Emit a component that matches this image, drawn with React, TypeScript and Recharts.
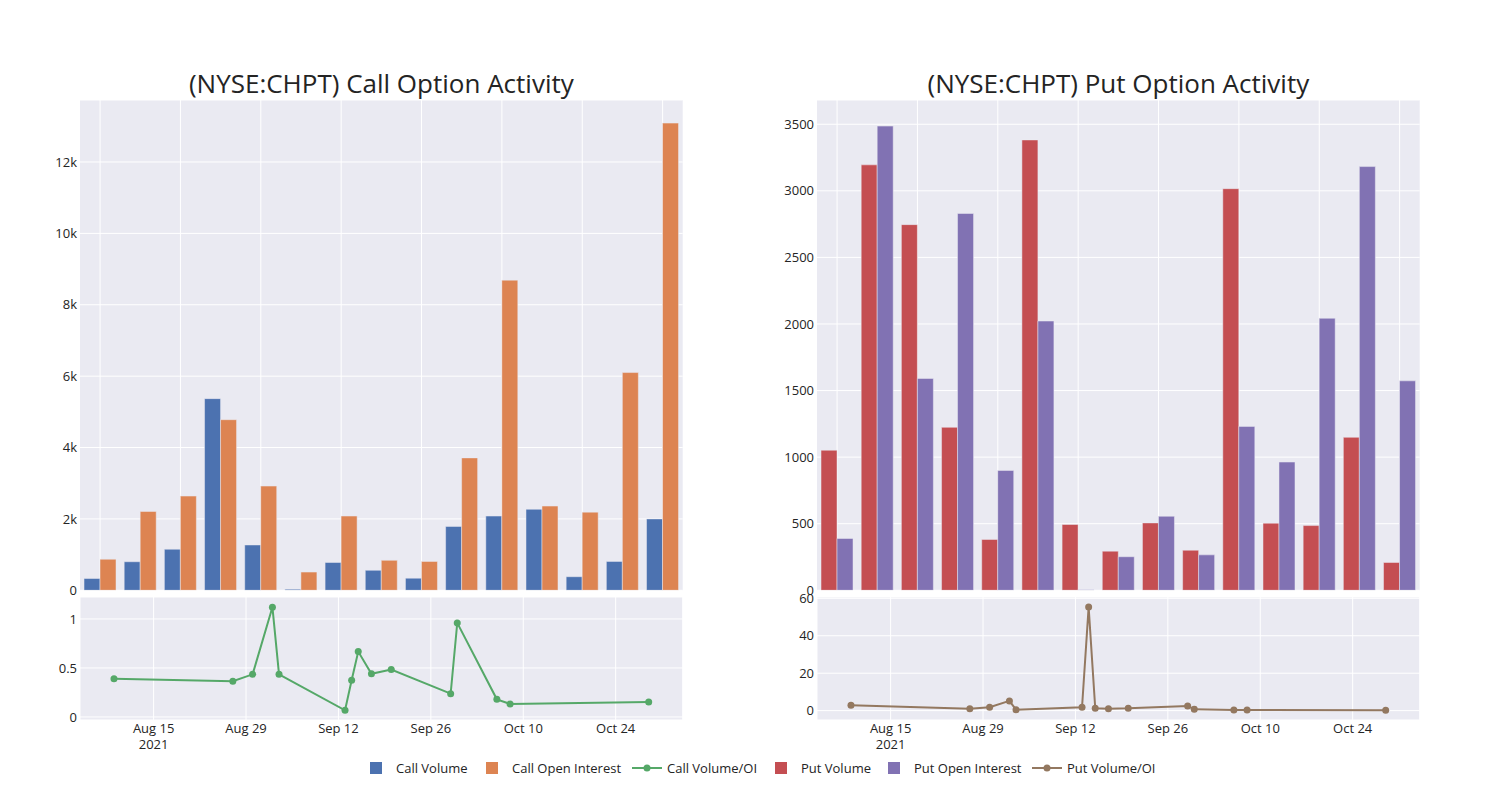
import React from "react";
import { BarChart, Bar, LineChart, Line, XAxis, YAxis, CartesianGrid } from "recharts";

// trade dates shared by all four panels
const dates = [
  "2021-08-09", "2021-08-27", "2021-08-30", "2021-09-02", "2021-09-03",
  "2021-09-13", "2021-09-14", "2021-09-15", "2021-09-17", "2021-09-20",
  "2021-09-29", "2021-09-30", "2021-10-06", "2021-10-08", "2021-10-29",
];

const callVolume = [330, 800, 1150, 5370, 1270, 30, 780, 560, 340, 1790, 2080, 2270, 380, 810, 2000];
const callOpenInterest = [870, 2210, 2640, 4780, 2920, 510, 2080, 840, 810, 3710, 8690, 2360, 2190, 6100, 13090];
const callRatio = [0.39, 0.364, 0.435, 1.12, 0.435, 0.068, 0.374, 0.667, 0.44, 0.483, 0.238, 0.96, 0.18, 0.133, 0.153];

const putVolume = [1052, 3195, 2746, 1224, 382, 3382, 494, 294, 506, 301, 3016, 504, 486, 1149, 209];
const putOpenInterest = [389, 3486, 1591, 2830, 900, 2022, 5, 252, 556, 266, 1231, 963, 2043, 3182, 1573];
const putRatio = [2.85, 1.07, 1.78, 5.2, 0.53, 1.78, 55.3, 1.25, 1.07, 1.25, 2.5, 0.7, 0.36, 0.36, 0.18];

const callBarTicks = [0, 2000, 4000, 6000, 8000, 10000, 12000];
const putBarTicks = [0, 500, 1000, 1500, 2000, 2500, 3000, 3500];
const callRatioTicks = [0, 0.5, 1];
const putRatioTicks = [0, 20, 40, 60];
const dateTicks = ["2021-08-15", "2021-08-29", "2021-09-12", "2021-09-26", "2021-10-10", "2021-10-24"];

const MONTHS = ["Jan", "Feb", "Mar", "Apr", "May", "Jun", "Jul", "Aug", "Sep", "Oct", "Nov", "Dec"];
const DAY = 86400000;
const FONT = '"Open Sans", verdana, arial, sans-serif';
const TEXT = "#242424";
const BG = "#EAEAF2";

const C = {
  callVol: "#4C72B0",
  callOi: "#DD8452",
  callRatio: "#55A868",
  putVol: "#C44E52",
  putOi: "#8172B3",
  putRatio: "#937860",
};

const ts = (d: string) => new Date(d + "T00:00:00Z").getTime();
const xDomain = [ts(dates[0]) - 5.15 * DAY, ts(dates[dates.length - 1]) + 5.15 * DAY];

const PLOT_W = 602.7;
const TOP_Y = 100;
const TOP_H = 490.3;
const BOT_Y = 596.7;
const BOT_H = 123;
const YW = 70;
const PAD = 12; // room so edge tick labels are not clipped

const kFmt = (v: number) => (v === 0 ? "0" : `${v / 1000}k`);

function DateTick({ x, y, payload, index }: any) {
  const d = new Date(payload.value);
  const label = `${MONTHS[d.getUTCMonth()]} ${d.getUTCDate()}`;
  return (
    <g>
      <text x={x} y={y} dy="0.71em" textAnchor="middle" fontSize={13} fill={TEXT} fontFamily={FONT}>
        {label}
      </text>
      {index === 0 && (
        <text x={x} y={y + 16} dy="0.71em" textAnchor="middle" fontSize={13} fill={TEXT} fontFamily={FONT}>
          {d.getUTCFullYear()}
        </text>
      )}
    </g>
  );
}

// vertical grid on every other category centre, like the plotly tick spacing
function catGrid({ offset }: any) {
  const band = offset.width / dates.length;
  return dates
    .map((_, i) => i)
    .filter((i) => i % 2 === 0)
    .map((i) => offset.left + band * (i + 0.5));
}

function BarPanel({ left, vol, oi, volColor, oiColor, domain, ticks, fmt }: any) {
  const data = dates.map((d, i) => ({ cat: d, vol: vol[i], oi: oi[i] }));
  return (
    <div style={{ position: "absolute", left: left - YW, top: TOP_Y }}>
      <BarChart
        width={YW + PLOT_W}
        height={TOP_H + PAD}
        data={data}
        margin={{ top: 0, right: 0, bottom: PAD, left: 0 }}
        barCategoryGap="10%"
        barGap={0}
      >
        <CartesianGrid fill={BG} stroke="#fff" strokeWidth={1} verticalCoordinatesGenerator={catGrid} />
        <XAxis dataKey="cat" hide />
        <YAxis
          width={YW}
          domain={domain}
          ticks={ticks}
          interval={0}
          allowDataOverflow
          axisLine={false}
          tickLine={false}
          tickSize={0}
          tickMargin={3}
          tickFormatter={fmt}
          tick={{ fontSize: 13, fill: TEXT, fontFamily: FONT }}
        />
        <Bar dataKey="vol" fill={volColor} stroke={BG} strokeWidth={0.5} isAnimationActive={false} />
        <Bar dataKey="oi" fill={oiColor} stroke={BG} strokeWidth={0.5} isAnimationActive={false} />
      </BarChart>
    </div>
  );
}

function RatioPanel({ left, ratio, color, domain, ticks }: any) {
  const data = dates.map((d, i) => ({ t: ts(d), r: ratio[i] }));
  return (
    <div style={{ position: "absolute", left: left - YW, top: BOT_Y - PAD }}>
      <LineChart
        width={YW + PLOT_W}
        height={BOT_H + 40 + PAD}
        data={data}
        margin={{ top: PAD, right: 0, bottom: 0, left: 0 }}
      >
        <CartesianGrid fill={BG} stroke="#fff" strokeWidth={1} />
        <XAxis
          type="number"
          dataKey="t"
          domain={xDomain}
          ticks={dateTicks.map(ts)}
          allowDataOverflow
          interval={0}
          height={40}
          axisLine={false}
          tickLine={false}
          tickSize={0}
          tickMargin={4}
          tick={(p: any) => <DateTick {...p} />}
        />
        <YAxis
          width={YW}
          domain={domain}
          ticks={ticks}
          interval={0}
          allowDataOverflow
          axisLine={false}
          tickLine={false}
          tickSize={0}
          tickMargin={3}
          tick={{ fontSize: 13, fill: TEXT, fontFamily: FONT }}
        />
        <Line
          type="linear"
          dataKey="r"
          stroke={color}
          strokeWidth={2}
          dot={{ r: 3.5, fill: color, stroke: color, strokeWidth: 0 }}
          isAnimationActive={false}
        />
      </LineChart>
    </div>
  );
}

const legendItems = [
  { label: "Call Volume", color: C.callVol, kind: "box", x: 376 },
  { label: "Call Open Interest", color: C.callOi, kind: "box", x: 492 },
  { label: "Call Volume/OI", color: C.callRatio, kind: "line", x: 647 },
  { label: "Put Volume", color: C.putVol, kind: "box", x: 781 },
  { label: "Put Open Interest", color: C.putOi, kind: "box", x: 894 },
  { label: "Put Volume/OI", color: C.putRatio, kind: "line", x: 1047 },
];

export default function App() {
  const LEFT = 80;
  const RIGHT = 817;
  return (
    <div style={{ position: "absolute", left: 0, top: 0, width: 1500, height: 800, background: "#fff", fontFamily: FONT }}>
      <svg width={1500} height={800} style={{ position: "absolute", left: 0, top: 0 }}>
        <text x={LEFT + PLOT_W / 2} y={93} textAnchor="middle" fontSize={26} fill={TEXT} fontFamily={FONT}>
          (NYSE:CHPT) Call Option Activity
        </text>
        <text x={RIGHT + PLOT_W / 2} y={93} textAnchor="middle" fontSize={26} fill={TEXT} fontFamily={FONT}>
          (NYSE:CHPT) Put Option Activity
        </text>
        {legendItems.map((it) => (
          <g key={it.label}>
            {it.kind === "box" ? (
              <rect x={it.x - 6} y={762} width={12} height={12} fill={it.color} />
            ) : (
              <g>
                <line x1={it.x - 15} x2={it.x + 15} y1={768} y2={768} stroke={it.color} strokeWidth={2} />
                <circle cx={it.x} cy={768} r={3.5} fill={it.color} />
              </g>
            )}
            <text x={it.x + 20} y={768} dominantBaseline="central" fontSize={13} fill={TEXT} fontFamily={FONT}>
              {it.label}
            </text>
          </g>
        ))}
      </svg>
      <BarPanel
        left={LEFT}
        vol={callVolume}
        oi={callOpenInterest}
        volColor={C.callVol}
        oiColor={C.callOi}
        domain={[0, 13737]}
        ticks={callBarTicks}
        fmt={kFmt}
      />
      <RatioPanel left={LEFT} ratio={callRatio} color={C.callRatio} domain={[-0.031, 1.224]} ticks={callRatioTicks} />
      <BarPanel
        left={RIGHT}
        vol={putVolume}
        oi={putOpenInterest}
        volColor={C.putVol}
        oiColor={C.putOi}
        domain={[0, 3682]}
        ticks={putBarTicks}
        fmt={(v: number) => String(v)}
      />
      <RatioPanel left={RIGHT} ratio={putRatio} color={C.putRatio} domain={[-5, 60.7]} ticks={putRatioTicks} />
    </div>
  );
}
